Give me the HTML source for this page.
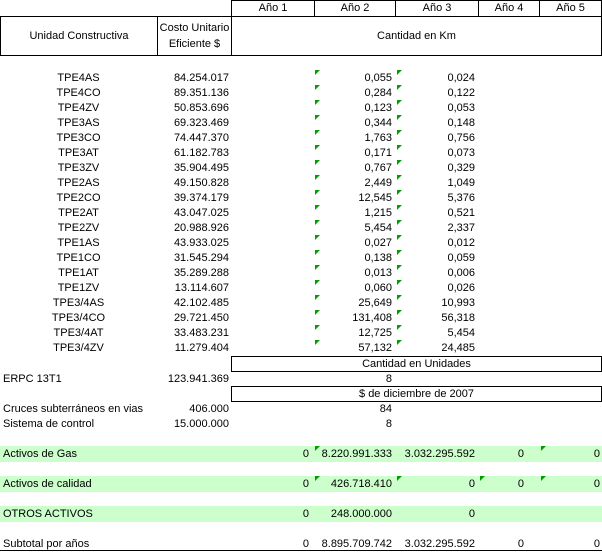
<!DOCTYPE html>
<html><head><meta charset="utf-8"><style>
body{margin:0;width:602px;height:552px;background:#fff;position:relative;overflow:hidden;font-family:"Liberation Sans",Arial,sans-serif;font-size:11px;color:#000}
div{position:absolute;white-space:nowrap}
.b{border:1px solid #000;box-sizing:border-box}
.t{height:14px;line-height:14px}
.r{text-align:right}
.c{text-align:center}
.g{background:#ccffcc;left:0;width:602px;height:16px}
.tr{width:0;height:0;border-top:5px solid #00a000;border-right:5px solid transparent}
</style></head><body>
<div class="b" style="left:231px;top:0;width:84px;height:17px"></div>
<div class="b" style="left:314px;top:0;width:82px;height:17px"></div>
<div class="b" style="left:395px;top:0;width:84px;height:17px"></div>
<div class="b" style="left:478px;top:0;width:62px;height:17px"></div>
<div class="b" style="left:539px;top:0;width:63px;height:17px"></div>
<div class="t c" style="left:231px;top:1px;width:84px">Año 1</div>
<div class="t c" style="left:314px;top:1px;width:82px">Año 2</div>
<div class="t c" style="left:395px;top:1px;width:84px">Año 3</div>
<div class="t c" style="left:478px;top:1px;width:62px">Año 4</div>
<div class="t c" style="left:539px;top:1px;width:63px">Año 5</div>
<div class="b" style="left:0;top:16px;width:158px;height:40px"></div>
<div class="b" style="left:157px;top:16px;width:75px;height:40px"></div>
<div class="b" style="left:231px;top:16px;width:371px;height:40px"></div>
<div class="t c" style="left:0;top:29px;width:158px">Unidad Constructiva</div>
<div class="t c" style="left:157px;top:21px;width:75px">Costo Unitario</div>
<div class="t c" style="left:157px;top:37px;width:75px">Eficiente $</div>
<div class="t c" style="left:231px;top:29px;width:371px">Cantidad en Km</div>
<div id="rows"></div>
<script>
var d=[["TPE4AS","84.254.017","0,055","0,024"],["TPE4CO","89.351.136","0,284","0,122"],["TPE4ZV","50.853.696","0,123","0,053"],["TPE3AS","69.323.469","0,344","0,148"],["TPE3CO","74.447.370","1,763","0,756"],["TPE3AT","61.182.783","0,171","0,073"],["TPE3ZV","35.904.495","0,767","0,329"],["TPE2AS","49.150.828","2,449","1,049"],["TPE2CO","39.374.179","12,545","5,376"],["TPE2AT","43.047.025","1,215","0,521"],["TPE2ZV","20.988.926","5,454","2,337"],["TPE1AS","43.933.025","0,027","0,012"],["TPE1CO","31.545.294","0,138","0,059"],["TPE1AT","35.289.288","0,013","0,006"],["TPE1ZV","13.114.607","0,060","0,026"],["TPE3/4AS","42.102.485","25,649","10,993"],["TPE3/4CO","29.721.450","131,408","56,318"],["TPE3/4AT","33.483.231","12,725","5,454"],["TPE3/4ZV","11.279.404","57,132","24,485"]];
var h="";
d.forEach(function(r,i){var y=71+i*15;
h+='<div class="t c" style="left:0;top:'+y+'px;width:157px">'+r[0]+'</div>';
h+='<div class="t r" style="left:150px;top:'+y+'px;width:79px">'+r[1]+'</div>';
h+='<div class="t r" style="left:314px;top:'+y+'px;width:78px">'+r[2]+'</div>';
h+='<div class="t r" style="left:395px;top:'+y+'px;width:80px">'+r[3]+'</div>';
h+='<div class="tr" style="left:315px;top:'+(y-1)+'px"></div><div class="tr" style="left:397px;top:'+(y-1)+'px"></div>';});
document.getElementById("rows").outerHTML=h;
</script>
<div class="b" style="left:231px;top:356px;width:371px;height:16px"></div>
<div class="t c" style="left:231px;top:357px;width:371px">Cantidad en Unidades</div>
<div class="t" style="left:3px;top:372px">ERPC 13T1</div>
<div class="t r" style="left:150px;top:372px;width:79px">123.941.369</div>
<div class="t r" style="left:314px;top:372px;width:78px">8</div>
<div class="b" style="left:231px;top:386px;width:371px;height:16px"></div>
<div class="t c" style="left:231px;top:387px;width:371px">$ de diciembre de 2007</div>
<div class="t" style="left:3px;top:402px">Cruces subterráneos en vias</div>
<div class="t r" style="left:150px;top:402px;width:79px">406.000</div>
<div class="t r" style="left:314px;top:402px;width:78px">84</div>
<div class="t" style="left:3px;top:417px">Sistema de control</div>
<div class="t r" style="left:150px;top:417px;width:79px">15.000.000</div>
<div class="t r" style="left:314px;top:417px;width:78px">8</div>

<div class="g" style="top:446px"></div>
<div class="t" style="left:3px;top:447px">Activos de Gas</div>
<div class="t r" style="left:231px;top:447px;width:78px">0</div>
<div class="t r" style="left:314px;top:447px;width:78px">8.220.991.333</div>
<div class="t r" style="left:395px;top:447px;width:80px">3.032.295.592</div>
<div class="t r" style="left:478px;top:447px;width:46px">0</div>
<div class="t r" style="left:539px;top:447px;width:61px">0</div>
<div class="tr" style="left:315px;top:446px"></div><div class="tr" style="left:541px;top:446px"></div>

<div class="g" style="top:476px"></div>
<div class="t" style="left:3px;top:477px">Activos de calidad</div>
<div class="t r" style="left:231px;top:477px;width:78px">0</div>
<div class="t r" style="left:314px;top:477px;width:78px">426.718.410</div>
<div class="t r" style="left:395px;top:477px;width:80px">0</div>
<div class="t r" style="left:478px;top:477px;width:46px">0</div>
<div class="t r" style="left:539px;top:477px;width:61px">0</div>
<div class="tr" style="left:315px;top:476px"></div><div class="tr" style="left:397px;top:476px"></div><div class="tr" style="left:480px;top:476px"></div><div class="tr" style="left:541px;top:476px"></div>

<div class="g" style="top:506px"></div>
<div class="t" style="left:3px;top:507px">OTROS ACTIVOS</div>
<div class="t r" style="left:231px;top:507px;width:78px">0</div>
<div class="t r" style="left:314px;top:507px;width:78px">248.000.000</div>
<div class="t r" style="left:395px;top:507px;width:80px">0</div>

<div class="t" style="left:3px;top:537px">Subtotal por años</div>
<div class="t r" style="left:231px;top:537px;width:78px">0</div>
<div class="t r" style="left:314px;top:537px;width:78px">8.895.709.742</div>
<div class="t r" style="left:395px;top:537px;width:80px">3.032.295.592</div>
<div class="t r" style="left:478px;top:537px;width:46px">0</div>
<div class="t r" style="left:539px;top:537px;width:61px">0</div>
<div style="left:0;top:550px;width:602px;height:1px;background:#000"></div>
</body></html>
